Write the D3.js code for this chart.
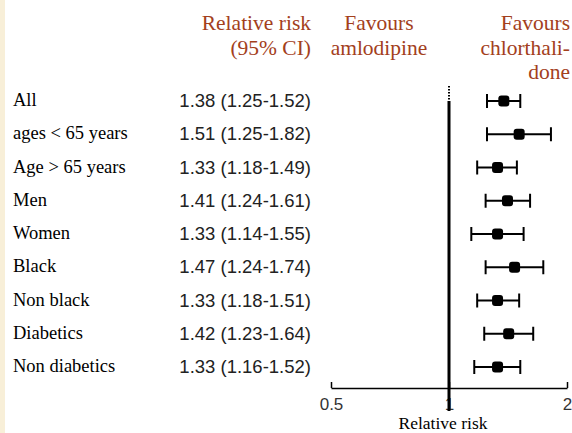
<!DOCTYPE html>
<html>
<head>
<meta charset="utf-8">
<script src="https://cdn.jsdelivr.net/npm/d3@7"></script>
<style>
  body { margin: 0; background: #fff; }
  svg text { fill: #000; }
</style>
</head>
<body>
<div class="grafico"></div>
<script>
var width = 572,
  height = 433;

// data
const groups = ["All", "ages < 65 years", "Age > 65 years", "Men", "Women", "Black", "Non black", "Diabetics", "Non diabetics"];
const rr = [1.38, 1.51, 1.33, 1.41, 1.33, 1.47, 1.33, 1.42, 1.33];
const lower = [1.25, 1.25, 1.18, 1.24, 1.14, 1.24, 1.18, 1.23, 1.16];
const upper = [1.52, 1.82, 1.49, 1.61, 1.55, 1.74, 1.51, 1.64, 1.52];
const xTicks = [0.5, 1, 2];

const datos = groups.map((g, i) => ({ g: g, rr: rr[i], lo: lower[i], hi: upper[i] }));
const fmt = d3.format(".2f");
const brown = "#a3401c";
const serif = "'Liberation Serif', 'Times New Roman', serif";
const sans = "'Liberation Sans', Arial, sans-serif";

let svg = d3.select(".grafico")
  .append("svg")
  .attr("width", width)
  .attr("height", height);

// beige strip on the left
svg.append("rect")
  .attr("x", 0).attr("y", 0)
  .attr("width", 5).attr("height", height)
  .attr("fill", "#f8efd8");

const x = d3.scaleLog()
  .base(2)
  .domain([0.5, 2])
  .range([331, 567]);

const y = d3.scalePoint()
  .domain(groups)
  .range([101, 367]);

// headers
const header = svg.append("g");

function headLines(lines, xp, anchor) {
  lines.forEach((t, i) => {
    header.append("text")
      .attr("x", xp)
      .attr("y", 30 + i * 24.5)
      .attr("text-anchor", anchor)
      .style("font-family", serif)
      .style("font-size", "21.5px")
      .style("fill", brown)
      .text(t);
  });
}
headLines(["Relative risk", "(95% CI)"], 311, "end");
headLines(["Favours", "amlodipine"], 379, "middle");
headLines(["Favours", "chlorthali-", "done"], 570, "end");

// row labels
svg.append("g")
  .selectAll("text")
  .data(datos)
  .enter().append("text")
  .attr("x", 13)
  .attr("y", d => y(d.g) + 5)
  .style("font-family", serif)
  .style("font-size", "18.5px")
  .text(d => d.g);

svg.append("g")
  .selectAll("text")
  .data(datos)
  .enter().append("text")
  .attr("x", 311)
  .attr("y", d => y(d.g) + 6)
  .attr("text-anchor", "end")
  .style("font-family", sans)
  .style("font-size", "18.5px")
  .style("fill", "#222")
  .text(d => `${fmt(d.rr)} (${fmt(d.lo)}-${fmt(d.hi)})`);

// axis
const xAxis = d3.axisBottom(x)
  .tickValues(xTicks)
  .tickFormat(d => d)
  .tickSize(-6)
  .tickSizeOuter(0)
  .tickPadding(10);

const ax = svg.append("g")
  .attr("class", "x axis")
  .attr("transform", "translate(0,388)")
  .call(xAxis);
ax.select(".domain").attr("stroke", "#000").attr("stroke-width", 1.5);
ax.selectAll(".tick line").attr("stroke", "#000").attr("stroke-width", 1.5);
ax.selectAll(".tick text")
  .style("font-family", sans)
  .style("font-size", "17px")
  .style("fill", "#333");

svg.append("text")
  .attr("x", 443)
  .attr("y", 429)
  .attr("text-anchor", "middle")
  .style("font-family", serif)
  .style("font-size", "17.5px")
  .text("Relative risk");

// line of no effect
svg.append("line")
  .attr("x1", x(1)).attr("x2", x(1))
  .attr("y1", 86).attr("y2", 101)
  .attr("stroke", "#000")
  .attr("stroke-width", 2)
  .attr("stroke-dasharray", "1.5,1.5");
svg.append("line")
  .attr("x1", x(1)).attr("x2", x(1))
  .attr("y1", 101).attr("y2", 411)
  .attr("stroke", "#000")
  .attr("stroke-width", 3);

// CIs
const rows = svg.append("g")
  .selectAll("g")
  .data(datos)
  .enter().append("g")
  .attr("transform", d => "translate(0," + y(d.g) + ")");

rows.append("line")
  .attr("x1", d => x(d.lo)).attr("x2", d => x(d.hi))
  .attr("stroke", "#000").attr("stroke-width", 2);
rows.append("line")
  .attr("x1", d => x(d.lo)).attr("x2", d => x(d.lo))
  .attr("y1", -7).attr("y2", 7)
  .attr("stroke", "#000").attr("stroke-width", 2);
rows.append("line")
  .attr("x1", d => x(d.hi)).attr("x2", d => x(d.hi))
  .attr("y1", -7).attr("y2", 7)
  .attr("stroke", "#000").attr("stroke-width", 2);
rows.append("rect")
  .attr("x", d => x(d.rr) - 5.5)
  .attr("y", -5.5)
  .attr("width", 11).attr("height", 11)
  .attr("rx", 3)
  .attr("fill", "#000");
</script>
</body>
</html>
